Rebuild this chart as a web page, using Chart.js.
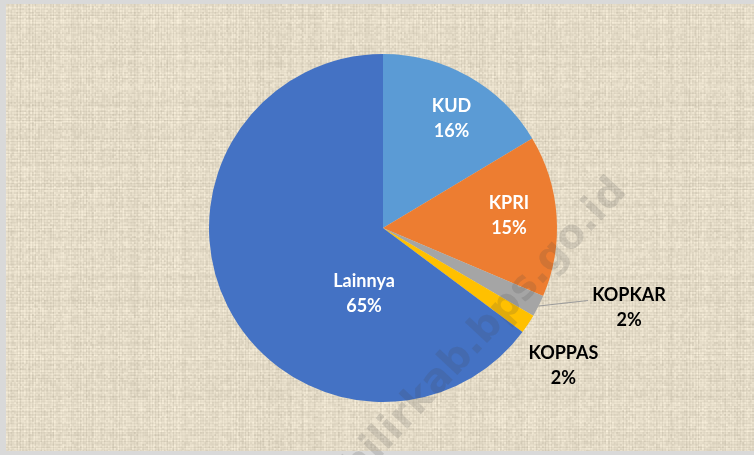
<!DOCTYPE html>
<html>
<head>
<meta charset="utf-8">
<script src="https://cdn.jsdelivr.net/npm/chart.js@4"></script>
<style>
    html, body { margin: 0; padding: 0; background: #d9d9d9; }
    #wrap { width: 754px; height: 455px; }
</style>
</head>
<body>
<div id="wrap"><canvas id="koperasiChart" width="754" height="455"></canvas></div>
<script>
const categories = ['KUD', 'KPRI', 'KOPKAR', 'KOPPAS', 'Lainnya'];
const shares = [16.4, 15.0, 2.0, 1.8, 64.8];
const sliceColors = ['#5B9BD5', '#ED7D31', '#A5A5A5', '#FFC000', '#4472C4'];
const labelColors = ['#ffffff', '#ffffff', '#000000', '#000000', '#ffffff'];

// label block centres, in units of the pie radius from the pie centre
const labelPlacement = {
    KUD: [0.394, -0.632],
    KPRI: [0.724, -0.075],
    KOPKAR: [1.414, 0.457],
    KOPPAS: [1.037, 0.787],
    Lainnya: [-0.109, 0.374]
};

function noise(n) {
    const s = Math.sin(n * 12.9898) * 43758.5453;
    return s - Math.floor(s);
}

// burlap-like texture drawn once into an offscreen canvas
function makeTexture(w, h) {
    const c = document.createElement('canvas');
    c.width = w; c.height = h;
    const g = c.getContext('2d');
    const img = g.createImageData(w, h);
    const rowN = [], colN = [];
    for (let y = 0; y < h; y++) rowN.push((noise(y * 3.1 + 7) - 0.5) * 22);
    for (let x = 0; x < w; x++) colN.push((noise(x * 5.7 + 11) - 0.5) * 22);
    for (let y = 0; y < h; y++) {
        for (let x = 0; x < w; x++) {
            const cell = (noise(Math.floor(x / 2) * 91.3 + Math.floor(y / 2) * 17.7) - 0.5) * 16;
            let d = rowN[y] * 0.5 + colN[x] * 0.5 + cell;
            if (x % 3 === 2) d -= 7;
            if (y % 3 === 2) d -= 7;
            const i = (y * w + x) * 4;
            img.data[i] = 232 + d;
            img.data[i + 1] = 223 + d;
            img.data[i + 2] = 203 + d;
            img.data[i + 3] = 255;
        }
    }
    g.putImageData(img, 0, 0);
    return c;
}

const texture = makeTexture(748, 447);

const backgroundPlugin = {
    id: 'burlap',
    beforeDraw(chart) {
        const ctx = chart.ctx;
        ctx.save();
        ctx.fillStyle = '#d9d9d9';
        ctx.fillRect(0, 0, chart.width, chart.height);
        ctx.drawImage(texture, 6, 4);
        ctx.restore();
    }
};

const labelPlugin = {
    id: 'sliceLabels',
    afterDatasetsDraw(chart) {
        const ctx = chart.ctx;
        const arcs = chart.getDatasetMeta(0).data;
        const total = shares.reduce((a, b) => a + b, 0);
        ctx.save();
        ctx.font = 'bold 18px Lato';
        ctx.textAlign = 'center';
        ctx.textBaseline = 'middle';
        arcs.forEach((arc, i) => {
            const r = arc.outerRadius;
            const p = labelPlacement[categories[i]];
            const x = arc.x + p[0] * r;
            const y = arc.y + p[1] * r;
            const pct = Math.round(shares[i] / total * 100) + '%';
            if (categories[i] === 'KOPKAR') {
                const mid = (arc.startAngle + arc.endAngle) / 2;
                ctx.strokeStyle = '#9a9a9a';
                ctx.lineWidth = 1;
                ctx.beginPath();
                ctx.moveTo(arc.x + Math.cos(mid) * r, arc.y + Math.sin(mid) * r);
                ctx.lineTo(x - 41, y - 7);
                ctx.stroke();
            }
            ctx.fillStyle = labelColors[i];
            ctx.fillText(categories[i], x, y - 12);
            ctx.fillText(pct, x, y + 13);
        });
        ctx.restore();
    },
    afterDraw(chart) {
        const ctx = chart.ctx;
        ctx.save();
        ctx.translate(628, 192);
        ctx.rotate(-47 * Math.PI / 180);
        ctx.font = 'bold 40px "DejaVu Sans"';
        ctx.textAlign = 'right';
        ctx.fillStyle = 'rgba(70, 70, 70, 0.17)';
        ctx.fillText('indragirihilirkab.bps.go.id', 0, 0);
        ctx.restore();
    }
};

const ctx = document.getElementById('koperasiChart').getContext('2d');
new Chart(ctx, {
    type: 'pie',
    data: {
        labels: categories,
        datasets: [{
            data: shares,
            backgroundColor: sliceColors,
            borderWidth: 0
        }]
    },
    options: {
        responsive: false,
        animation: false,
        layout: { padding: { top: 54, bottom: 53, left: 12, right: 0 } },
        plugins: {
            legend: { display: false },
            tooltip: { enabled: false }
        }
    },
    plugins: [backgroundPlugin, labelPlugin]
});
</script>
</body>
</html>
